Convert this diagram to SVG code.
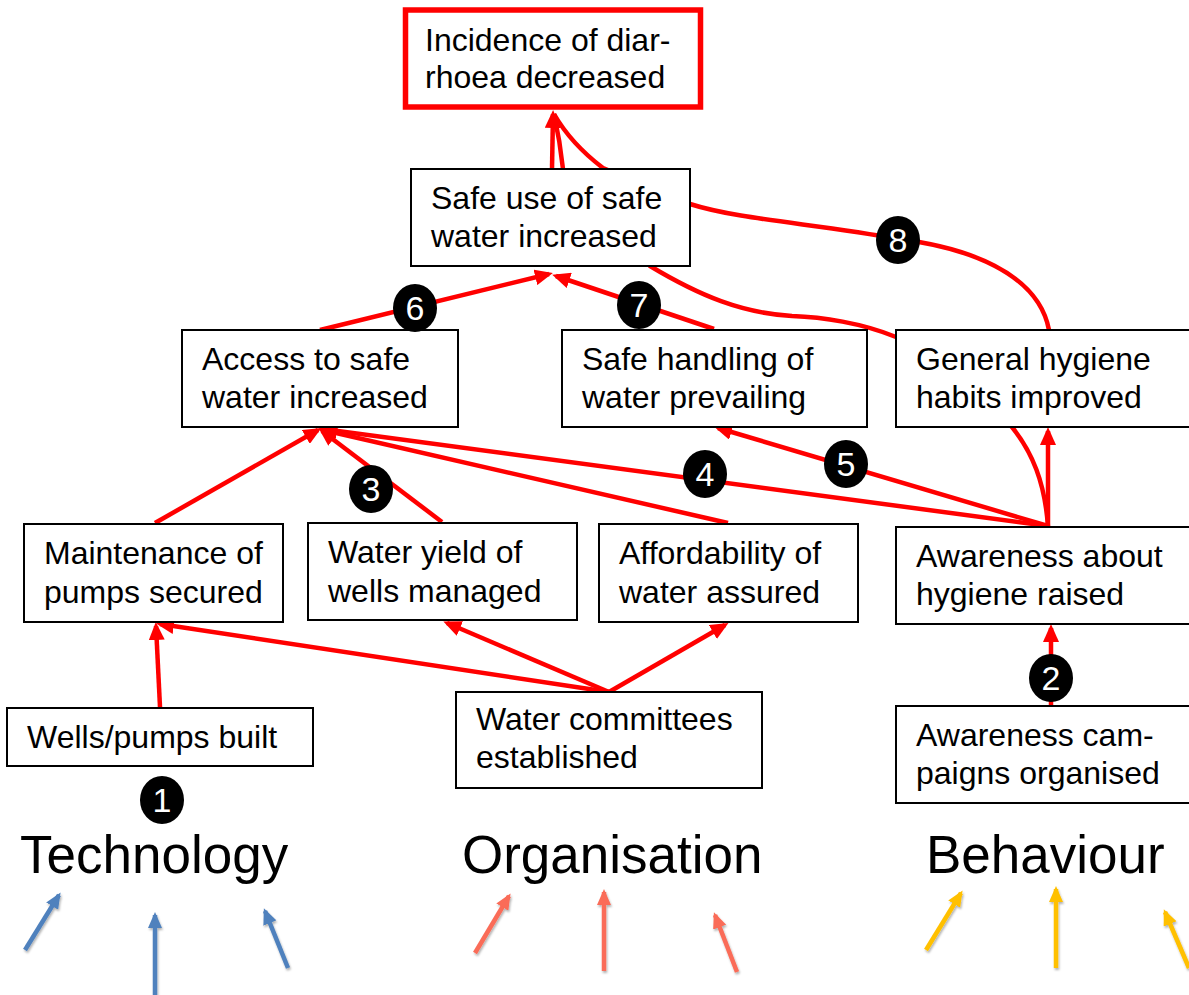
<svg xmlns="http://www.w3.org/2000/svg" width="1189" height="995" viewBox="0 0 1189 995">
<style>
.box{fill:#fff;stroke:#000;stroke-width:2}
.t{font-family:"Liberation Sans",Arial,sans-serif;font-size:32px;fill:#000}
.big{font-family:"Liberation Sans",Arial,sans-serif;font-size:53px;fill:#000}
.c{fill:none;stroke:#f00;stroke-width:4.5}
.n{fill:#000}
.nt{font-family:"Liberation Sans",Arial,sans-serif;font-size:34px;fill:#fff;text-anchor:middle}
.blue{stroke:#4f81bd;stroke-width:4.5;fill:none}
.orng{stroke:#fa6c58;stroke-width:4.5;fill:none}
.yel{stroke:#ffc000;stroke-width:4.5;fill:none}
</style>
<defs>
<marker id="ar" markerUnits="userSpaceOnUse" markerWidth="18" markerHeight="16" refX="14" refY="8" orient="auto"><path d="M0,0 L18,8 L0,16 z" fill="#f00"/></marker>
<marker id="ab" markerUnits="userSpaceOnUse" markerWidth="16" markerHeight="14" refX="13" refY="7" orient="auto"><path d="M0,0 L16,7 L0,14 z" fill="#4f81bd"/></marker>
<marker id="ao" markerUnits="userSpaceOnUse" markerWidth="16" markerHeight="14" refX="13" refY="7" orient="auto"><path d="M0,0 L16,7 L0,14 z" fill="#fa6c58"/></marker>
<marker id="ay" markerUnits="userSpaceOnUse" markerWidth="16" markerHeight="14" refX="13" refY="7" orient="auto"><path d="M0,0 L16,7 L0,14 z" fill="#ffc000"/></marker>
<filter id="sh" x="-50%" y="-50%" width="200%" height="200%"><feDropShadow dx="1" dy="2" stdDeviation="1.2" flood-opacity="0.3"/></filter>
</defs>

<g id="connectors">
<path class="c" d="M1049,330 C1038,272 965,247 898,239 C820,224 740,220 690,204 L603,168 C582,152 566,135 554,114"/>
<path class="c" d="M1048,527 C1045,482 1032,452 1012,427 L896,337 C862,323 822,317 792,316 C742,313 700,296 650,266 L563,169 C561,150 558,132 554,114"/>
<path class="c" d="M552,169 L553,114" marker-end="url(#ar)"/>
<path class="c" d="M320,330 L549,274" marker-end="url(#ar)"/>
<path class="c" d="M714,329 L556,276" marker-end="url(#ar)"/>
<path class="c" d="M155,523 L318,430" marker-end="url(#ar)"/>
<path class="c" d="M442,522 L322,431" marker-end="url(#ar)"/>
<path class="c" d="M728,523 L323,430" marker-end="url(#ar)"/>
<path class="c" d="M1048,526 L323,429" marker-end="url(#ar)"/>
<path class="c" d="M1048,526 L718,428" marker-end="url(#ar)"/>
<path class="c" d="M1048,526 L1048,431" marker-end="url(#ar)"/>
<path class="c" d="M160,707 L156,626" marker-end="url(#ar)"/>
<path class="c" d="M609,692 L160,624" marker-end="url(#ar)"/>
<path class="c" d="M609,692 L447,623" marker-end="url(#ar)"/>
<path class="c" d="M609,692 L725,625" marker-end="url(#ar)"/>
<path class="c" d="M1051,706 L1051,628" marker-end="url(#ar)"/>
</g>

<g id="n-incidence"><rect x="405.5" y="10" width="295" height="97" fill="#fff" stroke="#f00" stroke-width="5.5"/>
<text class="t" x="425" y="51">Incidence of diar-</text><text class="t" x="425" y="88">rhoea decreased</text></g>
<g id="n-safeuse"><rect class="box" x="411" y="169" width="279" height="97"/>
<text class="t" x="431" y="209">Safe use of safe</text><text class="t" x="431" y="247">water increased</text></g>
<g id="n-access"><rect class="box" x="182" y="330" width="276" height="97"/>
<text class="t" x="202" y="370">Access to safe</text><text class="t" x="202" y="408">water increased</text></g>
<g id="n-handling"><rect class="box" x="562" y="330" width="305" height="97"/>
<text class="t" x="582" y="370">Safe handling of</text><text class="t" x="582" y="408">water prevailing</text></g>
<g id="n-hygiene"><rect class="box" x="896" y="330" width="300" height="97"/>
<text class="t" x="916" y="370">General hygiene</text><text class="t" x="916" y="408">habits improved</text></g>
<g id="n-maintenance"><rect class="box" x="24" y="524" width="259" height="98"/>
<text class="t" x="44" y="564">Maintenance of</text><text class="t" x="44" y="603">pumps secured</text></g>
<g id="n-yield"><rect class="box" x="308" y="523" width="269" height="97"/>
<text class="t" x="328" y="563">Water yield of</text><text class="t" x="328" y="602">wells managed</text></g>
<g id="n-afford"><rect class="box" x="599" y="524" width="259" height="98"/>
<text class="t" x="619" y="564">Affordability of</text><text class="t" x="619" y="603">water assured</text></g>
<g id="n-awareness"><rect class="box" x="896" y="527" width="300" height="97"/>
<text class="t" x="916" y="567">Awareness about</text><text class="t" x="916" y="605">hygiene raised</text></g>
<g id="n-wells"><rect class="box" x="7" y="708" width="306" height="58"/>
<text class="t" x="27" y="748">Wells/pumps built</text></g>
<g id="n-committees"><rect class="box" x="456" y="692" width="306" height="96"/>
<text class="t" x="476" y="730">Water committees</text><text class="t" x="476" y="768">established</text></g>
<g id="n-campaigns"><rect class="box" x="896" y="706" width="300" height="97"/>
<text class="t" x="916" y="746">Awareness cam-</text><text class="t" x="916" y="784">paigns organised</text></g>

<g id="labels">
<g><ellipse class="n" cx="162" cy="800" rx="22" ry="24"/><text class="nt" x="162" y="812">1</text></g>
<g><ellipse class="n" cx="1051" cy="678" rx="22" ry="24"/><text class="nt" x="1051" y="690">2</text></g>
<g><ellipse class="n" cx="371" cy="489" rx="22" ry="24"/><text class="nt" x="371" y="501">3</text></g>
<g><ellipse class="n" cx="705" cy="474" rx="22" ry="24"/><text class="nt" x="705" y="486">4</text></g>
<g><ellipse class="n" cx="846" cy="464" rx="22" ry="24"/><text class="nt" x="846" y="476">5</text></g>
<g><ellipse class="n" cx="415" cy="308" rx="22" ry="24"/><text class="nt" x="415" y="320">6</text></g>
<g><ellipse class="n" cx="639" cy="305" rx="22" ry="24"/><text class="nt" x="639" y="317">7</text></g>
<g><ellipse class="n" cx="898" cy="240" rx="22" ry="24"/><text class="nt" x="898" y="252">8</text></g>
</g>

<g id="categories">
<text class="big" x="20" y="873">Technology</text>
<text class="big" x="462" y="873">Organisation</text>
<text class="big" x="926" y="873">Behaviour</text>
</g>

<g id="bottom-arrows" filter="url(#sh)">
<path class="blue" d="M25,950 L59,895" marker-end="url(#ab)"/>
<path class="blue" d="M155,995 L155,915" marker-end="url(#ab)"/>
<path class="blue" d="M288,968 L265,911" marker-end="url(#ab)"/>
<path class="orng" d="M475,953 L509,896" marker-end="url(#ao)"/>
<path class="orng" d="M604,971 L604,892" marker-end="url(#ao)"/>
<path class="orng" d="M737,972 L715,915" marker-end="url(#ao)"/>
<path class="yel" d="M926,950 L961,893" marker-end="url(#ay)"/>
<path class="yel" d="M1056,968 L1056,889" marker-end="url(#ay)"/>
<path class="yel" d="M1189,968 L1165,912" marker-end="url(#ay)"/>
</g>
</svg>
